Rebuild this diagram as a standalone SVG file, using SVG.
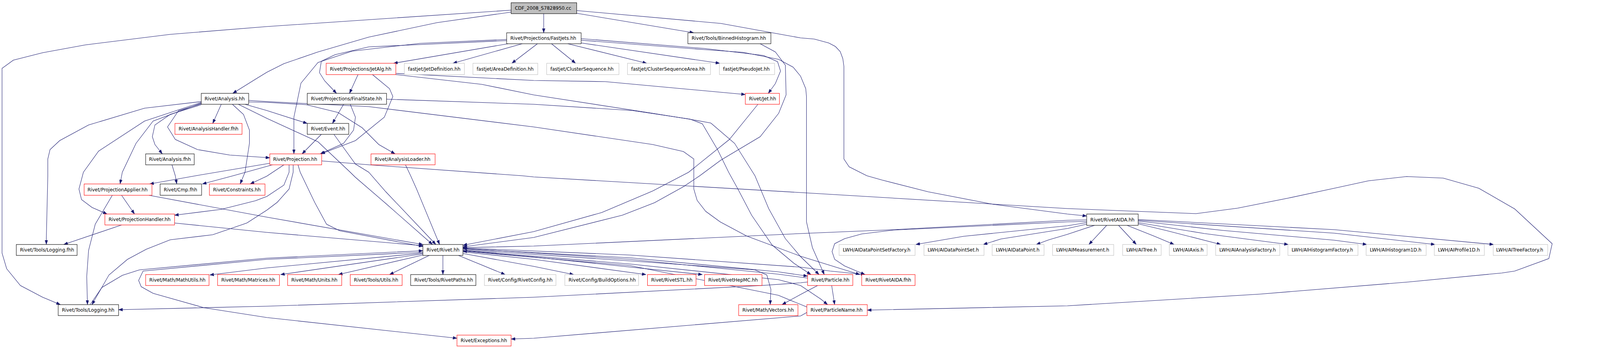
<svg xmlns="http://www.w3.org/2000/svg" width="4317" height="891" viewBox="0 0 4317 891">
<style>
.e{fill:none;stroke:#191970;stroke-width:1.1;marker-end:url(#ah)}
.n rect{fill:#ffffff;stroke-width:1.1}
.k rect{stroke:#000000}
.r rect{stroke:#ff0000}
.g rect{stroke:#bfbfbf}
.f rect{fill:#bfbfbf;stroke:#000000}
.n text{font-family:"DejaVu Sans","Liberation Sans",sans-serif;font-size:12.6px;fill:#000000}
</style>
<defs>
<marker id="ah" viewBox="0 0 11 8" refX="11" refY="4" markerWidth="11" markerHeight="8" markerUnits="userSpaceOnUse" orient="auto">
<path d="M0,0 L11,4 L0,8 z" fill="#191970" stroke="#191970" stroke-width="0.5"/>
</marker>
</defs>
<rect x="0" y="0" width="4317" height="891" fill="#ffffff"/>
<g id="diagram" transform="scale(0.9488,1)">
<g id="edges">
<path class="e" d="M1467,35 L1467,84"/>
<path class="e" d="M1556,34 L1872,84"/>
<path class="e" d="M1556,27 L1945,60 L2119,90 L2160,97 L2197,100 L2236,110 L2254,119 L2267,132 L2274,150 L2277,170 L2277,407 L2291,427 L2339,450 L2380,461 L2504,491 L2679,523 L2880,548 L2932,553"/>
<path class="e" d="M1379,31 L1179,58 L995,95 L858,133 L766,163 L720,185 L689,203 L628,239"/>
<path class="e" d="M1379,26 L720,68 L459,88 L230,115 L115,135 L36,154 L5.5,175 L5.5,648 L18,688 L55,731 L115,761 L163,780"/>
<path class="e" d="M1371,112 L1062,162"/>
<path class="e" d="M1409,112 L1222,162"/>
<path class="e" d="M1450,112 L1381,162"/>
<path class="e" d="M1488,112 L1553,162"/>
<path class="e" d="M1532,112 L1745,162"/>
<path class="e" d="M1568,110 L1942,162"/>
<path class="e" d="M1568,99 L1900,124 L2060,142 L2098,158 L2106,182 L2092,214 L2073,239"/>
<path class="e" d="M1568,103 L1900,127 L2005,134 L2101,152 L2140,172 L2160,195 L2174,227 L2176,247 L2176,568 L2192,634 L2224,703"/>
<path class="e" d="M1367,104 L995,120 L904,140 L867,157 L862,186 L876,207 L897,228 L908,239"/>
<path class="e" d="M1367,101 L1133,111 L950,131 L858,160 L812,213 L793,300 L793,394"/>
<path class="e" d="M966,191 L943,239"/>
<path class="e" d="M1005,191 L1051,227 L1060,247 L1037,300 L959,360 L866,394"/>
<path class="e" d="M1068,188 L1440,206 L1633,209 L2011,242"/>
<path class="e" d="M1068,191 L1300,216 L1440,243 L1761,290 L1872,307 L1918,315 L1982,367 L2037,450 L2074,534 L2119,611 L2160,657 L2210,703"/>
<path class="e" d="M1043,254 L1440,267 L1706,283 L1862,305 L1895,317 L1936,383 L1966,441 L1991,484 L2028,551 L2083,627 L2142,674 L2188,703"/>
<path class="e" d="M927,267 L897,316"/>
<path class="e" d="M945,267 L959,300 L954,333 L927,367 L864,394"/>
<path class="e" d="M867,344 L815,394"/>
<path class="e" d="M901,344 L959,420 L995,441 L1041,491 L1176,626"/>
<path class="e" d="M1094,422 L1108,450 L1124,484 L1186,626"/>
<path class="e" d="M643,267 L720,303 L858,363 L945,441 L959,454 L1041,521 L1167,626"/>
<path class="e" d="M661,267 L720,283 L829,316"/>
<path class="e" d="M671,261 L720,262 L826,268 L912,288 L977,327 L1022,370 L1066,394"/>
<path class="e" d="M671,257 L720,260 L995,273 L1440,325 L1761,370 L1844,388 L1872,407 L1872,484 L1881,513 L1904,541 L1943,568 L2014,604 L2160,656 L2320,703"/>
<path class="e" d="M627,267 L657,293 L673,333 L673,367 L661,441 L648,471"/>
<path class="e" d="M597,267 L574,316"/>
<path class="e" d="M543,268 L459,293 L418,320 L411,350 L418,370 L438,394"/>
<path class="e" d="M543,266 L482,283 L452,325 L473,357 L533,383 L620,397 L728,404"/>
<path class="e" d="M543,260 L390,277 L239,320 L161,360 L135,383 L129,407 L129,450 L125,610 L125,626"/>
<path class="e" d="M543,262 L390,310 L266,387 L225,441 L213,484 L220,511 L248,531 L289,548"/>
<path class="e" d="M543,264 L413,310 L367,367 L330,441 L324,471"/>
<path class="e" d="M464,422 L473,450 L477,471"/>
<path class="e" d="M728,418 L528,450 L404,471"/>
<path class="e" d="M735,422 L629,450 L546,471"/>
<path class="e" d="M766,422 L720,451 L675,471"/>
<path class="e" d="M780,422 L780,441 L766,474 L720,503 L689,514 L597,536 L471,551"/>
<path class="e" d="M791,422 L791,441 L780,484 L748,518 L720,538 L666,571 L574,601 L459,614 L395,638 L344,664 L294,704 L248,780"/>
<path class="e" d="M804,422 L810,441 L849,518 L881,574 L917,591 L1141,631"/>
<path class="e" d="M868,412 L996,422 L1409,450 L1440,453 L2160,493 L2880,534 L3227,547 L3339,533 L3477,507 L3600,482 L3692,463 L3795,452 L3894,456 L3990,482 L4087,535 L4188,624 L4179,662 L4087,694 L4052,699 L3800,722 L3400,753 L2880,783 L2340,794"/>
<path class="e" d="M328,500 L363,548"/>
<path class="e" d="M303,500 L257,574 L239,641 L234,708 L236,780"/>
<path class="e" d="M402,500 L720,556 L1141,626"/>
<path class="e" d="M328,576 L172,626"/>
<path class="e" d="M471,571 L720,595 L1141,629"/>
<path class="e" d="M243,780 L275,736 L330,705 L376,691 L720,661 L1141,642"/>
<path class="e" d="M1141,646 L720,664 L386,694 L374,718 L381,734 L413,751 L551,788 L720,813 L1233,866"/>
<path class="e" d="M1141,648 L720,686 L566,704"/>
<path class="e" d="M1141,650 L757,703"/>
<path class="e" d="M1141,653 L913,703"/>
<path class="e" d="M1158,654 L1051,703"/>
<path class="e" d="M1195,654 L1195,703"/>
<path class="e" d="M1237,654 L1363,703"/>
<path class="e" d="M1249,649 L1440,682 L1548,703"/>
<path class="e" d="M1249,645 L1440,664 L1743,703"/>
<path class="e" d="M1249,642 L1440,658 L1895,703"/>
<path class="e" d="M1249,639 L1700,668 L2037,691 L2069,704 L2080,741 L2078,780"/>
<path class="e" d="M1249,637 L1700,660 L2100,696 L2179,707"/>
<path class="e" d="M1249,641 L1700,676 L2100,716 L2160,731 L2215,766 L2233,780"/>
<path class="e" d="M1249,635 L1700,653 L2160,684 L2240,694 L2334,703"/>
<path class="e" d="M2179,712 L2100,702 L1700,664 L1249,636"/>
<path class="e" d="M2177,786 L2100,756 L1700,680 L1249,643"/>
<path class="e" d="M2179,722 L2160,724 L2055,731 L1440,761 L720,784 L320,793"/>
<path class="e" d="M2206,731 L2160,754 L2110,780"/>
<path class="e" d="M2244,731 L2252,780"/>
<path class="e" d="M2177,800 L2160,809 L1440,866 L1379,868"/>
<path class="e" d="M2045,267 L1968,357 L1858,441 L1761,489 L1624,544 L1440,593 L1249,628"/>
<path class="e" d="M2051,112 L2092,133 L2119,167 L2121,243 L2101,290 L2051,350 L1945,410 L1888,450 L1844,478 L1766,519 L1679,551 L1440,608 L1249,632"/>
<path class="e" d="M2932,563 L2880,564 L2412,588 L2160,598 L1440,630 L1249,634"/>
<path class="e" d="M2932,567 L2880,568 L2412,589 L2325,599 L2279,611 L2252,624 L2245,644 L2252,664 L2279,681 L2334,703"/>
<path class="e" d="M2932,570 L2880,578 L2600,605 L2471,626"/>
<path class="e" d="M2932,574 L2880,585 L2700,612 L2653,626"/>
<path class="e" d="M2953,577 L2880,600 L2830,614 L2796,626"/>
<path class="e" d="M2986,577 L2938,626"/>
<path class="e" d="M3018,577 L3066,626"/>
<path class="e" d="M3041,577 L3110,603 L3168,626"/>
<path class="e" d="M3071,573 L3150,591 L3294,626"/>
<path class="e" d="M3071,570 L3250,598 L3476,626"/>
<path class="e" d="M3071,566 L3300,590 L3600,615 L3688,626"/>
<path class="e" d="M3071,564 L3600,597 L3872,626"/>
<path class="e" d="M3071,562 L3600,588 L4030,626"/>
</g>
<g id="n_cdf" class="n f"><rect x="1379" y="7" width="177" height="28"/><text x="1389" y="25.5">CDF_2008_S7828950.cc</text></g>
<g id="n_fastjets" class="n k"><rect x="1367" y="84" width="201" height="28"/><text x="1377" y="102.5">Rivet/Projections/FastJets.hh</text></g>
<g id="n_binnedhistogram" class="n k"><rect x="1856" y="84" width="224" height="28"/><text x="1866" y="102.5">Rivet/Tools/BinnedHistogram.hh</text></g>
<g id="n_jetalg" class="n r"><rect x="880" y="162" width="188" height="29"/><text x="890" y="181">Rivet/Projections/JetAlg.hh</text></g>
<g id="n_jetdefinition" class="n g"><rect x="1091" y="162" width="162" height="29"/><text x="1101" y="181">fastjet/JetDefinition.hh</text></g>
<g id="n_areadefinition" class="n g"><rect x="1276" y="162" width="175" height="29"/><text x="1286" y="181">fastjet/AreaDefinition.hh</text></g>
<g id="n_clustersequence" class="n g"><rect x="1475" y="162" width="195" height="29"/><text x="1485" y="181">fastjet/ClusterSequence.hh</text></g>
<g id="n_clustersequencearea" class="n g"><rect x="1693" y="162" width="224" height="29"/><text x="1703" y="181">fastjet/ClusterSequenceArea.hh</text></g>
<g id="n_pseudojet" class="n g"><rect x="1941" y="162" width="149" height="29"/><text x="1951" y="181">fastjet/PseudoJet.hh</text></g>
<g id="n_analysis" class="n k"><rect x="543" y="239" width="128" height="28"/><text x="552" y="257.5">Rivet/Analysis.hh</text></g>
<g id="n_finalstate" class="n k"><rect x="829" y="239" width="214" height="28"/><text x="839" y="257.5">Rivet/Projections/FinalState.hh</text></g>
<g id="n_jet" class="n r"><rect x="2011" y="239" width="92" height="28"/><text x="2021" y="257.5">Rivet/Jet.hh</text></g>
<g id="n_analysishandler" class="n r"><rect x="472" y="316" width="181" height="28"/><text x="482" y="334.5">Rivet/AnalysisHandler.fhh</text></g>
<g id="n_event" class="n k"><rect x="829" y="316" width="112" height="28"/><text x="839" y="334.5">Rivet/Event.hh</text></g>
<g id="n_analysisfhh" class="n k"><rect x="393" y="394" width="131" height="28"/><text x="402" y="412.5">Rivet/Analysis.fhh</text></g>
<g id="n_projection" class="n r"><rect x="728" y="394" width="140" height="28"/><text x="737" y="412.5">Rivet/Projection.hh</text></g>
<g id="n_analysisloader" class="n r"><rect x="1001" y="394" width="173" height="28"/><text x="1011" y="412.5">Rivet/AnalysisLoader.hh</text></g>
<g id="n_projectionapplier" class="n r"><rect x="227" y="471" width="183" height="29"/><text x="236" y="490">Rivet/ProjectionApplier.hh</text></g>
<g id="n_cmp" class="n k"><rect x="432" y="471" width="112" height="29"/><text x="442" y="490">Rivet/Cmp.fhh</text></g>
<g id="n_constraints" class="n r"><rect x="565" y="471" width="150" height="29"/><text x="575" y="490">Rivet/Constraints.hh</text></g>
<g id="n_projectionhandler" class="n r"><rect x="283" y="548" width="188" height="28"/><text x="293" y="566.5">Rivet/ProjectionHandler.hh</text></g>
<g id="n_rivetaida" class="n k"><rect x="2932" y="548" width="139" height="29"/><text x="2942" y="567">Rivet/RivetAIDA.hh</text></g>
<g id="n_loggingfhh" class="n k"><rect x="44" y="626" width="164" height="28"/><text x="54" y="644.5">Rivet/Tools/Logging.fhh</text></g>
<g id="n_rivet" class="n k"><rect x="1141" y="626" width="108" height="28"/><text x="1151" y="644.5">Rivet/Rivet.hh</text></g>
<g id="n_aidatapointsetfactory" class="n g"><rect x="2264" y="626" width="205" height="28"/><text x="2274" y="644.5">LWH/AIDataPointSetFactory.h</text></g>
<g id="n_aidatapointset" class="n g"><rect x="2493" y="626" width="162" height="28"/><text x="2503" y="644.5">LWH/AIDataPointSet.h</text></g>
<g id="n_aidatapoint" class="n g"><rect x="2677" y="626" width="140" height="28"/><text x="2687" y="644.5">LWH/AIDataPoint.h</text></g>
<g id="n_aimeasurement" class="n g"><rect x="2840" y="626" width="165" height="28"/><text x="2850" y="644.5">LWH/AIMeasurement.h</text></g>
<g id="n_aitree" class="n g"><rect x="3029" y="626" width="104" height="28"/><text x="3039" y="644.5">LWH/AITree.h</text></g>
<g id="n_aiaxis" class="n g"><rect x="3155" y="626" width="102" height="28"/><text x="3165" y="644.5">LWH/AIAxis.h</text></g>
<g id="n_aianalysisfactory" class="n g"><rect x="3280" y="626" width="173" height="28"/><text x="3290" y="644.5">LWH/AIAnalysisFactory.h</text></g>
<g id="n_aihistogramfactory" class="n g"><rect x="3475" y="626" width="189" height="28"/><text x="3485" y="644.5">LWH/AIHistogramFactory.h</text></g>
<g id="n_aihistogram1d" class="n g"><rect x="3686" y="626" width="162" height="28"/><text x="3696" y="644.5">LWH/AIHistogram1D.h</text></g>
<g id="n_aiprofile1d" class="n g"><rect x="3870" y="626" width="135" height="28"/><text x="3880" y="644.5">LWH/AIProfile1D.h</text></g>
<g id="n_aitreefactory" class="n g"><rect x="4029" y="626" width="147" height="28"/><text x="4037" y="644.5">LWH/AITreeFactory.h</text></g>
<g id="n_mathutils" class="n r"><rect x="393" y="703" width="171" height="28"/><text x="403" y="721.5">Rivet/Math/MathUtils.hh</text></g>
<g id="n_matrices" class="n r"><rect x="587" y="703" width="167" height="28"/><text x="597" y="721.5">Rivet/Math/Matrices.hh</text></g>
<g id="n_units" class="n r"><rect x="776" y="703" width="146" height="28"/><text x="786" y="721.5">Rivet/Math/Units.hh</text></g>
<g id="n_utils" class="n r"><rect x="945" y="703" width="140" height="28"/><text x="955" y="721.5">Rivet/Tools/Utils.hh</text></g>
<g id="n_rivetpaths" class="n k"><rect x="1108" y="703" width="176" height="28"/><text x="1118" y="721.5">Rivet/Tools/RivetPaths.hh</text></g>
<g id="n_rivetconfig" class="n g"><rect x="1307" y="703" width="193" height="28"/><text x="1317" y="721.5">Rivet/Config/RivetConfig.hh</text></g>
<g id="n_buildoptions" class="n g"><rect x="1524" y="703" width="199" height="28"/><text x="1534" y="721.5">Rivet/Config/BuildOptions.hh</text></g>
<g id="n_rivetstl" class="n r"><rect x="1747" y="703" width="131" height="28"/><text x="1757" y="721.5">Rivet/RivetSTL.hh</text></g>
<g id="n_rivethepmc" class="n r"><rect x="1901" y="703" width="155" height="28"/><text x="1911" y="721.5">Rivet/RivetHepMC.hh</text></g>
<g id="n_particle" class="n r"><rect x="2179" y="703" width="122" height="28"/><text x="2189" y="721.5">Rivet/Particle.hh</text></g>
<g id="n_rivetaidafhh" class="n r"><rect x="2325" y="703" width="144" height="28"/><text x="2335" y="721.5">Rivet/RivetAIDA.fhh</text></g>
<g id="n_logging" class="n k"><rect x="157" y="780" width="163" height="28"/><text x="167" y="798.5">Rivet/Tools/Logging.hh</text></g>
<g id="n_vectors" class="n r"><rect x="1993" y="780" width="160" height="28"/><text x="2003" y="798.5">Rivet/Math/Vectors.hh</text></g>
<g id="n_particlename" class="n r"><rect x="2177" y="780" width="163" height="28"/><text x="2187" y="798.5">Rivet/ParticleName.hh</text></g>
<g id="n_exceptions" class="n r"><rect x="1233" y="858" width="146" height="28"/><text x="1243" y="876.5">Rivet/Exceptions.hh</text></g>
</g>
</svg>
